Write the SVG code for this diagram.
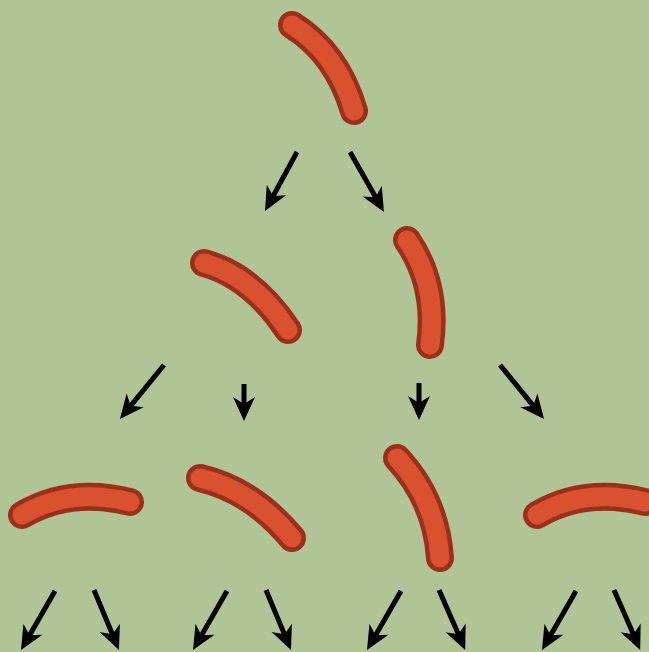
<svg xmlns="http://www.w3.org/2000/svg" width="649" height="652" viewBox="0 0 649 652">
<style>
.o{fill:none;stroke:#9a301c;stroke-width:28;stroke-linecap:round}
.i{fill:none;stroke:#d9512f;stroke-width:19;stroke-linecap:round}
.a{stroke:#000;stroke-width:5;marker-end:url(#ah)}
</style>
<defs>
<marker id="ah" markerUnits="userSpaceOnUse" viewBox="-11 -12 27 24" refX="0" refY="0" markerWidth="27" markerHeight="24" orient="auto">
<path d="M14,0 L-10,-11 L-3,0 L-10,11 Z" fill="#000"/>
</marker>
</defs>
<rect width="649" height="652" fill="#b0c495"/>
<g id="b1"><path class="o" d="M292,25 Q337,53 354,111"/><path class="i" d="M292,25 Q337,53 354,111"/></g>
<g id="b2"><path class="o" d="M204,263 Q252,276 288,330"/><path class="i" d="M204,263 Q252,276 288,330"/></g>
<g id="b3"><path class="o" d="M407,240 Q438,285 430,345"/><path class="i" d="M407,240 Q438,285 430,345"/></g>
<g id="b4"><path class="o" d="M22,515 Q70,487 130,502"/><path class="i" d="M22,515 Q70,487 130,502"/></g>
<g id="b5"><path class="o" d="M200,478 Q252,490 292,538"/><path class="i" d="M200,478 Q252,490 292,538"/></g>
<g id="b6"><path class="o" d="M397,458 Q436,500 440,558"/><path class="i" d="M397,458 Q436,500 440,558"/></g>
<g id="b7"><path class="o" d="M537,515 Q585,487 645,502"/><path class="i" d="M537,515 Q585,487 645,502"/></g>
<g id="connectors">
<line class="a" x1="297" y1="152" x2="271.7" y2="198.7"/>
<line class="a" x1="350" y1="152" x2="377.1" y2="199.8"/>
<line class="a" x1="164" y1="365" x2="128.8" y2="408.1"/>
<line class="a" x1="244" y1="384" x2="244" y2="407"/>
<line class="a" x1="419" y1="383" x2="419" y2="406"/>
<line class="a" x1="500" y1="365" x2="535.2" y2="408.1"/>
<line class="a" x1="55" y1="591" x2="28" y2="637.9"/>
<line class="a" x1="94" y1="590" x2="113.6" y2="637.1"/>
<line class="a" x1="227" y1="591" x2="200" y2="637.9"/>
<line class="a" x1="266" y1="590" x2="285.6" y2="637.1"/>
<line class="a" x1="401" y1="591" x2="374" y2="637.9"/>
<line class="a" x1="439" y1="590" x2="459.6" y2="637.1"/>
<line class="a" x1="576" y1="591" x2="549" y2="637.9"/>
<line class="a" x1="614" y1="590" x2="634.6" y2="637.1"/>
</g>
</svg>
